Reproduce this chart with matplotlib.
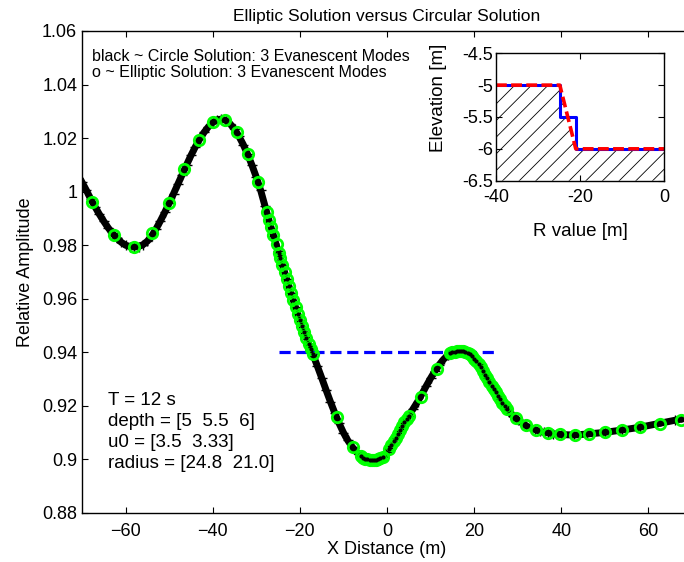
import numpy as np
import matplotlib.pyplot as plt

plt.rcParams['font.family'] = ['Liberation Sans', 'DejaVu Sans']
plt.rcParams['hatch.linewidth'] = 0.6

# circular solution
circ_x = [-70, -69, -68, -67, -66, -65, -64, -63, -62, -61, -60, -59, -58, -57, -56, -55,
          -54, -53, -52, -51, -50, -49, -48, -47, -46, -45, -44, -43, -42, -41, -40, -39,
          -38, -37, -36, -35, -34, -33, -32, -31, -30, -29, -28, -27, -26, -25, -24, -23,
          -22, -21, -20, -19, -18, -17, -16, -15, -14, -13, -12, -11, -10, -9, -8, -7,
          -6, -5, -4, -3, -2, -1, 0, 1, 2, 3, 4, 5, 6, 7, 8, 9, 10, 11, 12, 13, 14, 15,
          16, 17, 18, 19, 20, 21, 22, 23, 24, 25, 26, 27, 28, 29, 30, 31, 32, 33, 34, 35,
          36, 37, 38, 39, 40, 43, 46, 50, 54, 58, 62, 66, 70]
circ_y = [1.0035, 1.0005, 0.9972, 0.9943, 0.9915, 0.9889, 0.9865, 0.9844, 0.9826, 0.9811,
          0.9800, 0.9795, 0.9793, 0.9795, 0.9802, 0.9815, 0.9835, 0.9861, 0.9891, 0.9923,
          0.9957, 0.9992, 1.0028, 1.0064, 1.0100, 1.0135, 1.0167, 1.0196, 1.0221, 1.0242,
          1.0258, 1.0268, 1.0271, 1.0266, 1.0253, 1.0233, 1.0207, 1.0176, 1.0140, 1.0099,
          1.0054, 1.0005, 0.9946, 0.9887, 0.9833, 0.9778, 0.9725, 0.9673, 0.9620, 0.9568,
          0.9520, 0.9475, 0.9432, 0.9392, 0.9349, 0.9305, 0.9260, 0.9216, 0.9174, 0.9135,
          0.9100, 0.9071, 0.9047, 0.9027, 0.9012, 0.9003, 0.8998, 0.8997, 0.9000, 0.9009,
          0.9028, 0.9053, 0.9081, 0.9110, 0.9138, 0.9162, 0.9189, 0.9215, 0.9244, 0.9274,
          0.9303, 0.9330, 0.9354, 0.9374, 0.9390, 0.9400, 0.9405, 0.9406, 0.9402, 0.9392,
          0.9376, 0.9356, 0.9331, 0.9303, 0.9275, 0.9250, 0.9225, 0.9200, 0.9178, 0.9161,
          0.9148, 0.9136, 0.9125, 0.9117, 0.9111, 0.9105, 0.9101, 0.9099, 0.9096, 0.9094,
          0.9093, 0.9091, 0.9095, 0.9101, 0.9110, 0.9120, 0.9133, 0.9146, 0.9158]

# elliptic solution (green circles)
ell_x = [-67.6, -62.7, -58.1, -53.9, -50.0, -46.5, -43.1, -40.0, -37.25, -34.4, -31.8,
         -29.6, -27.6, -27.15, -26.6, -26.1, -25.3, -24.85,
         -24.5, -24.0, -23.5, -23.0, -22.5, -22.0, -21.5, -21.0, -20.5, -20.0, -19.5,
         -19.0, -18.5, -18.0, -17.5, -17.0,
         -11.55, -7.9,
         -6.0, -5.5, -5.0, -4.5, -4.0, -3.5, -3.0, -2.5, -2.0, -1.5, -1.0,
         0.5, 1.0, 1.5, 2.0, 2.5, 3.0, 3.5, 4.0, 4.5, 5.0,
         7.7, 11.4,
         14.5, 15.0, 15.5, 16.0, 16.5, 17.0, 17.5, 18.0, 18.5, 19.0, 19.5, 20.0, 20.5,
         21.0, 21.5, 22.0, 22.5, 23.0, 23.5, 24.0, 24.5, 25.0, 25.5, 26.0, 26.5, 27.0, 27.5,
         29.6, 31.9, 34.3, 37.0, 39.7, 43.1, 46.4, 50.0, 53.9, 58.1, 62.7, 67.4]
ell_y = [0.9960, 0.9837, 0.9795, 0.9845, 0.9957, 1.0086, 1.0194, 1.0259, 1.0267, 1.0223,
         1.0142, 1.0036, 0.9925, 0.9894, 0.9867, 0.9838, 0.9805, 0.9772,
         0.9752, 0.9725, 0.9699, 0.9673, 0.9647, 0.9620, 0.9594, 0.9568, 0.9544, 0.9520,
         0.9497, 0.9475, 0.9453, 0.9432, 0.9412, 0.9392,
         0.9157, 0.9045,
         0.9012, 0.9007, 0.9003, 0.9000, 0.8998, 0.8997, 0.8997, 0.8998, 0.9000, 0.9004,
         0.9009,
         0.9040, 0.9053, 0.9067, 0.9081, 0.9095, 0.9110, 0.9124, 0.9138, 0.9150, 0.9162,
         0.9235, 0.9338,
         0.9396, 0.9400, 0.9403, 0.9405, 0.9406, 0.9406, 0.9404, 0.9402, 0.9398, 0.9392,
         0.9385, 0.9376, 0.9367, 0.9356, 0.9344, 0.9331, 0.9317, 0.9303, 0.9289, 0.9275,
         0.9262, 0.9250, 0.9237, 0.9225, 0.9212, 0.9200, 0.9189,
         0.9154, 0.9129, 0.9110, 0.9100, 0.9094, 0.9091, 0.9095, 0.9101, 0.9110, 0.9120,
         0.9134, 0.9149]

# reference level
ref_x = [-24.8, 24.8]
ref_y = [0.94, 0.94]

# bathymetry for the inset
step_r = [-40, -24.8, -24.8, -21.0, -21.0, 0]
step_z = [-5, -5, -5.5, -5.5, -6, -6]
slope_r = [-40, -24.8, -21.0, 0]
slope_z = [-5, -5, -6, -6]

yticks = [0.88, 0.9, 0.92, 0.94, 0.96, 0.98, 1.0, 1.02, 1.04, 1.06]
ytick_labels = ['0.88', '0.9', '0.92', '0.94', '0.96', '0.98', '1', '1.02', '1.04', '1.06']
xticks = [-60, -40, -20, 0, 20, 40, 60]

params = ['T = 12 s', 'depth = [5  5.5  6]', 'u0 = [3.5  3.33]', 'radius = [24.8  21.0]']

fig = plt.figure(figsize=(6.84, 5.62), dpi=100)
ax = fig.add_axes([0.1199, 0.0872, 0.8918, 0.8577])

ax.plot(circ_x, circ_y, '-', color='black', lw=5, zorder=2)
ax.plot(circ_x, circ_y, '+', color='black', ms=7.5, mew=1.0, zorder=2)
ax.plot(ref_x, ref_y, '--', color=(0, 0, 1), lw=2.3, dashes=(3.5, 1.8), zorder=3)
ax.plot(ell_x, ell_y, 'o', mfc='none', mec=(0, 1, 0), ms=7.5, mew=2.0, zorder=4)
ax.plot(ell_x, ell_y, '.', color='black', ms=4, zorder=5)

ax.set_xlim(-70, 70)
ax.set_ylim(0.88, 1.06)
ax.set_xticks(xticks)
ax.set_yticks(yticks)
ax.set_yticklabels(ytick_labels)
ax.tick_params(direction='in', top=True, right=True, length=4.5, width=0.8, labelsize=13)
ax.tick_params(axis='x', pad=7)
ax.tick_params(axis='y', pad=3.5)
for s in ax.spines.values():
    s.set_linewidth(1.0)
ax.set_xlabel('X Distance (m)', fontsize=13, labelpad=1)
ax.set_ylabel('Relative Amplitude', fontsize=13, labelpad=6)
ax.set_title('Elliptic Solution versus Circular Solution', fontsize=12.5, pad=7)

ax.text(0.0164, 0.948, 'black ~ Circle Solution: 3 Evanescent Modes', transform=ax.transAxes,
        fontsize=11.5, va='center')
ax.text(0.0164, 0.913, 'o ~ Elliptic Solution: 3 Evanescent Modes', transform=ax.transAxes,
        fontsize=11.5, va='center')
for i, p in enumerate(params):
    ax.text(0.0426, 0.233 - i * 0.0435, p, transform=ax.transAxes, fontsize=13.5, va='center')

# inset: bottom profile
ax_in = fig.add_axes([0.7251, 0.6785, 0.2456, 0.2267])
ax_in.fill_between(slope_r, slope_z, -6.5, facecolor='white', edgecolor='black',
                   hatch='//', linewidth=0)
ax_in.plot(step_r, step_z, '-', color=(0, 0, 1), lw=2.2)
ax_in.plot(slope_r, slope_z, '--', color=(1, 0, 0), lw=2.6, dashes=(3, 1.2))
ax_in.set_xlim(-40, 0)
ax_in.set_ylim(-6.5, -4.5)
ax_in.set_xticks([-40, -20, 0])
ax_in.set_xticklabels(['-40', '-20', '0'])
ax_in.set_yticks([-6.5, -6, -5.5, -5, -4.5])
ax_in.set_yticklabels(['-6.5', '-6', '-5.5', '-5', '-4.5'])
ax_in.tick_params(direction='in', top=True, right=True, length=4, width=0.8, labelsize=13)
ax_in.tick_params(axis='x', pad=6)
ax_in.tick_params(axis='y', pad=2)
for s in ax_in.spines.values():
    s.set_linewidth(1.0)
ax_in.set_xlabel('R value [m]', fontsize=13.5, labelpad=12)
ax_in.set_ylabel('Elevation [m]', fontsize=13.5)
ax_in.yaxis.set_label_coords(-0.29, 0.65)

fig.savefig('out.png', dpi=100)
